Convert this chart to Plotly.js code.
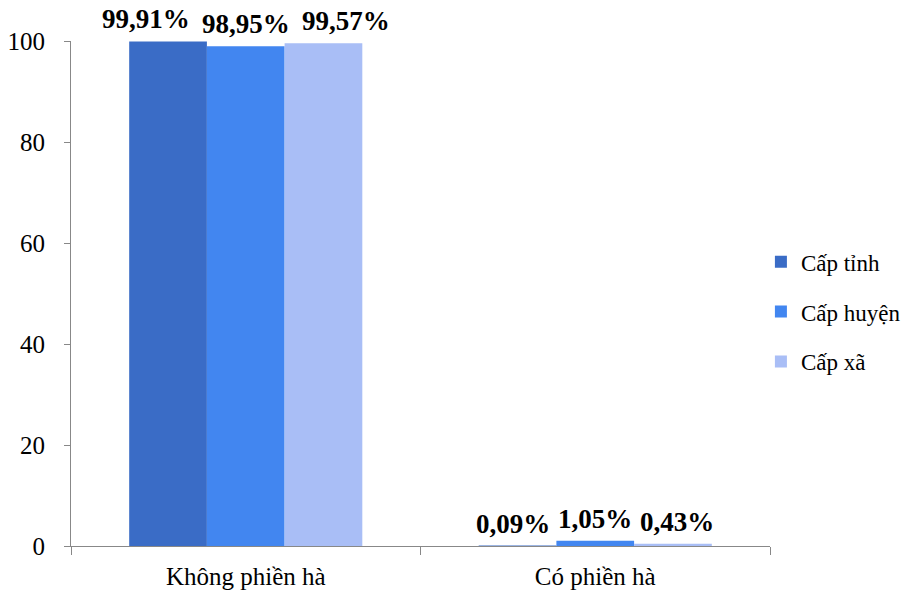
<!DOCTYPE html>
<html>
<head>
<meta charset="utf-8">
<script src="https://cdn.plot.ly/plotly-3.0.1.min.js"></script>
<style>html,body{margin:0;padding:0;background:#fff;}#chart{width:919px;height:594px;}</style>
</head>
<body>
<div id="chart"></div>
<script>
const categories = ["Không phiền hà", "Có phiền hà"];
const seriesNames = ["Cấp tỉnh", "Cấp huyện", "Cấp xã"];
const capTinh = [99.91, 0.09];
const capHuyen = [98.95, 1.05];
const capXa = [99.57, 0.43];
const yTicks = [0, 20, 40, 60, 80, 100];

const SERIF = "Liberation Serif";
const colors = ["#3A6CC6", "#4286F0", "#A9BEF6"];
const labelSpread = [100, 82];   // horizontal spacing of value labels (px) per category
const allValues = [capTinh, capHuyen, capXa];
const fmt = v => v.toFixed(2).replace(".", ",") + "%";

const traces = allValues.map((vals, i) => ({
  type: "bar",
  name: seriesNames[i],
  legendgroup: "g" + i,
  x: categories,
  y: vals,
  marker: {color: colors[i]},
  hoverinfo: "none"
}));

const annotations = [];
allValues.forEach((vals, i) => {
  vals.forEach((v, j) => {
    annotations.push({
      x: categories[j], y: v, xref: "x", yref: "y",
      text: "<b>" + fmt(v) + "</b>",
      showarrow: false, xanchor: "center", yanchor: "bottom",
      xshift: (i - 1) * labelSpread[j], yshift: 5,
      font: {family: SERIF, size: 27, color: "#000"}
    });
  });
});

const layout = {
  width: 919, height: 594,
  margin: {l: 71, r: 149, t: 41, b: 48},
  paper_bgcolor: "#fff", plot_bgcolor: "#fff",
  barmode: "group", bargap: 0.333, bargroupgap: 0,
  font: {family: SERIF, color: "#000"},
  showlegend: true,
  annotations: annotations,
  legend: {x: 0.987, xanchor: "left", y: 0.464, yanchor: "middle",
           font: {family: SERIF, size: 23, color: "#000"},
           tracegroupgap: 17, itemwidth: 30},
  xaxis: {showline: true, linecolor: "#888", linewidth: 1,
          ticks: "outside", tickson: "boundaries", ticklen: 8, tickcolor: "#888",
          ticklabelstandoff: 8,
          tickfont: {family: SERIF, size: 25, color: "#000"},
          showgrid: false, zeroline: false},
  yaxis: {range: [0, 100], tickvals: yTicks, showline: true, linecolor: "#888", linewidth: 1,
          ticks: "outside", ticklen: 6, tickcolor: "#888",
          ticklabelstandoff: 14,
          tickfont: {family: SERIF, size: 25, color: "#000"},
          showgrid: false, zeroline: false}
};

Plotly.newPlot("chart", traces, layout, {displayModeBar: false, staticPlot: true});
</script>
</body>
</html>
